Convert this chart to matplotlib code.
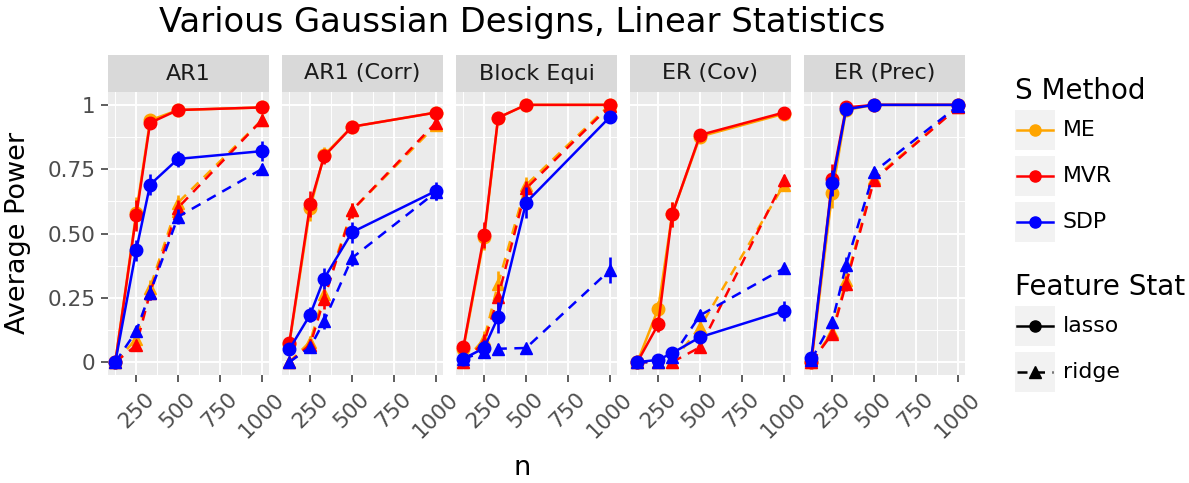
import numpy as np
import matplotlib.pyplot as plt
from matplotlib.patches import Rectangle

# sample sizes
n = [125, 250, 333, 500, 1000]

designs = ["AR1", "AR1 (Corr)", "Block Equi", "ER (Cov)", "ER (Prec)"]
methods = ["ME", "MVR", "SDP"]
stats = ["lasso", "ridge"]

# rows: ME lasso, MVR lasso, SDP lasso, ME ridge, MVR ridge, SDP ridge
ar1 = [[0.0, 0.58, 0.94, 0.98, 0.99],
       [0.0, 0.57, 0.93, 0.98, 0.99],
       [0.0, 0.435, 0.69, 0.79, 0.82],
       [0.0, 0.09, 0.29, 0.62, 0.94],
       [0.0, 0.065, 0.27, 0.60, 0.94],
       [0.0, 0.12, 0.27, 0.565, 0.75]]
ar1_corr = [[0.07, 0.60, 0.805, 0.915, 0.97],
            [0.075, 0.615, 0.80, 0.915, 0.97],
            [0.05, 0.185, 0.325, 0.505, 0.665],
            [0.0, 0.08, 0.265, 0.59, 0.92],
            [0.0, 0.068, 0.245, 0.59, 0.93],
            [0.0, 0.058, 0.16, 0.405, 0.66]]
block_equi = [[0.05, 0.485, 0.95, 1.0, 1.0],
              [0.058, 0.495, 0.95, 1.0, 1.0],
              [0.013, 0.055, 0.175, 0.62, 0.952],
              [0.0, 0.09, 0.305, 0.688, 1.0],
              [0.0, 0.078, 0.253, 0.675, 0.995],
              [0.013, 0.04, 0.052, 0.055, 0.357]]
er_cov = [[0.0, 0.208, 0.574, 0.877, 0.965],
          [0.0, 0.147, 0.574, 0.883, 0.97],
          [0.0, 0.009, 0.035, 0.097, 0.199],
          [0.0, 0.0, 0.0, 0.136, 0.688],
          [0.0, 0.0, 0.0, 0.058, 0.708],
          [0.0, 0.0, 0.02, 0.182, 0.364]]
er_prec = [[0.0, 0.658, 0.98, 1.0, 1.0],
           [0.0, 0.71, 0.99, 1.0, 1.0],
           [0.017, 0.697, 0.983, 1.0, 1.0],
           [0.0, 0.117, 0.318, 0.714, 0.99],
           [0.0, 0.11, 0.305, 0.708, 0.99],
           [0.01, 0.156, 0.377, 0.74, 0.995]]

# half widths of the error bars (same row order)
ar1_err = [[0.0, 0.06, 0.02, 0.01, 0.005],
           [0.0, 0.06, 0.02, 0.01, 0.005],
           [0.0, 0.04, 0.04, 0.03, 0.04],
           [0.0, 0.02, 0.03, 0.03, 0.02],
           [0.0, 0.02, 0.03, 0.03, 0.02],
           [0.0, 0.02, 0.03, 0.03, 0.02]]
ar1_corr_err = [[0.01, 0.05, 0.03, 0.01, 0.01],
                [0.01, 0.05, 0.03, 0.01, 0.01],
                [0.01, 0.03, 0.04, 0.04, 0.035],
                [0.0, 0.02, 0.04, 0.03, 0.02],
                [0.0, 0.02, 0.04, 0.03, 0.02],
                [0.0, 0.02, 0.03, 0.03, 0.03]]
block_equi_err = [[0.01, 0.05, 0.02, 0.0, 0.0],
                  [0.01, 0.05, 0.02, 0.0, 0.0],
                  [0.01, 0.03, 0.06, 0.06, 0.01],
                  [0.0, 0.03, 0.05, 0.03, 0.0],
                  [0.0, 0.03, 0.05, 0.03, 0.0],
                  [0.01, 0.02, 0.02, 0.01, 0.05]]
er_cov_err = [[0.0, 0.03, 0.05, 0.01, 0.01],
              [0.0, 0.03, 0.05, 0.01, 0.01],
              [0.0, 0.005, 0.01, 0.02, 0.04],
              [0.0, 0.0, 0.0, 0.03, 0.02],
              [0.0, 0.0, 0.0, 0.02, 0.02],
              [0.0, 0.0, 0.01, 0.02, 0.015]]
er_prec_err = [[0.0, 0.06, 0.01, 0.0, 0.0],
               [0.0, 0.06, 0.01, 0.0, 0.0],
               [0.01, 0.05, 0.01, 0.0, 0.0],
               [0.0, 0.02, 0.03, 0.02, 0.005],
               [0.0, 0.02, 0.03, 0.02, 0.005],
               [0.005, 0.02, 0.03, 0.02, 0.005]]

powers = [ar1, ar1_corr, block_equi, er_cov, er_prec]
errors = [ar1_err, ar1_corr_err, block_equi_err, er_cov_err, er_prec_err]

colors = {"ME": "orange", "MVR": "red", "SDP": "blue"}
markers = {"lasso": "o", "ridge": "^"}
dash = (0, (4, 3))
styles = {"lasso": "-", "ridge": dash}

W, H = 1189, 483
fig = plt.figure(figsize=(W / 100, H / 100), dpi=100)


def rect(x0, y0, x1, y1):
    return [x0 / W, 1 - y1 / H, (x1 - x0) / W, (y1 - y0) / H]


lefts = [108, 282, 456, 630, 804]
pw = 161
top, bottom, strip_top = 92, 375, 55

for k, d in enumerate(designs):
    l = lefts[k]
    ax = fig.add_axes(rect(l, top, l + pw, bottom))
    ax.set_facecolor('#EBEBEB')
    for s in ax.spines.values():
        s.set_visible(False)
    ax.set_xlim(81.25, 1043.75)
    ax.set_ylim(-0.05, 1.05)
    ax.set_xticks([250, 500, 750, 1000])
    ax.set_xticks([125, 375, 625, 875], minor=True)
    ax.set_yticks([0, 0.25, 0.5, 0.75, 1])
    ax.set_yticks([0.125, 0.375, 0.625, 0.875], minor=True)
    ax.set_xticklabels(["250", "500", "750", "1000"], rotation=45)
    if k == 0:
        ax.set_yticklabels(["0", "0.25", "0.50", "0.75", "1"])
    else:
        ax.set_yticklabels([])
    ax.grid(which='major', color='white', lw=1.4)
    ax.grid(which='minor', color='white', lw=0.7)
    ax.set_axisbelow(True)
    ax.tick_params(which='major', length=5, width=1.1, color='#333333',
                   labelsize=15.5, labelcolor='#4D4D4D')
    ax.tick_params(which='minor', length=0)
    ax.tick_params(axis='x', pad=5)
    ax.tick_params(axis='y', pad=4)
    if k != 0:
        ax.tick_params(axis='y', length=0)

    p = powers[k]
    e = errors[k]
    row = 0
    for st in stats:
        for m in methods:
            ax.errorbar(n, p[row], yerr=e[row], color=colors[m], ls=styles[st],
                        marker=markers[st], ms=9, lw=1.8, elinewidth=1.9,
                        capsize=0, zorder=3 + methods.index(m))
            row += 1

    sax = fig.add_axes(rect(l, strip_top, l + pw, top))
    sax.set_facecolor('#D9D9D9')
    sax.set_xticks([])
    sax.set_yticks([])
    for s in sax.spines.values():
        s.set_visible(False)
    sax.text(0.5, 0.5, d, ha='center', va='center', fontsize=16,
             color='#1A1A1A', transform=sax.transAxes)

fig.text(522 / W, 1 - 32 / H, "Various Gaussian Designs, Linear Statistics",
         ha='center', va='baseline', fontsize=24.3)
fig.text(18 / W, 1 - 233 / H, "Average Power", rotation=90,
         ha='center', va='center', fontsize=19.5)
fig.text(522 / W, 1 - 468 / H, "n", ha='center', va='center', fontsize=19.5)

# legend drawn by hand, ggplot style
lg = fig.add_axes([0, 0, 1, 1])
lg.set_xlim(0, W)
lg.set_ylim(H, 0)
lg.axis('off')

lg.text(1015, 91, "S Method", ha='left', va='center', fontsize=20)
for i, m in enumerate(methods):
    y0 = 110 + i * 46
    lg.add_patch(Rectangle((1015, y0), 40, 40, fc='#F2F2F2', ec='none'))
    lg.plot([1017, 1053], [y0 + 20, y0 + 20], color=colors[m], lw=1.8)
    lg.plot([1035], [y0 + 20], marker='o', ms=8, color=colors[m])
    lg.text(1063, y0 + 20, m, ha='left', va='center', fontsize=15.8)

lg.text(1015, 287, "Feature Stat", ha='left', va='center', fontsize=20)
for i, st in enumerate(stats):
    y0 = 306 + i * 46
    lg.add_patch(Rectangle((1015, y0), 40, 40, fc='#F2F2F2', ec='none'))
    lg.plot([1017, 1053], [y0 + 20, y0 + 20], color='black', lw=1.8, ls=styles[st])
    lg.plot([1035], [y0 + 20], marker=markers[st], ms=8, color='black')
    lg.text(1063, y0 + 20, st, ha='left', va='center', fontsize=15.8)

fig.savefig("out.png", dpi=100)
